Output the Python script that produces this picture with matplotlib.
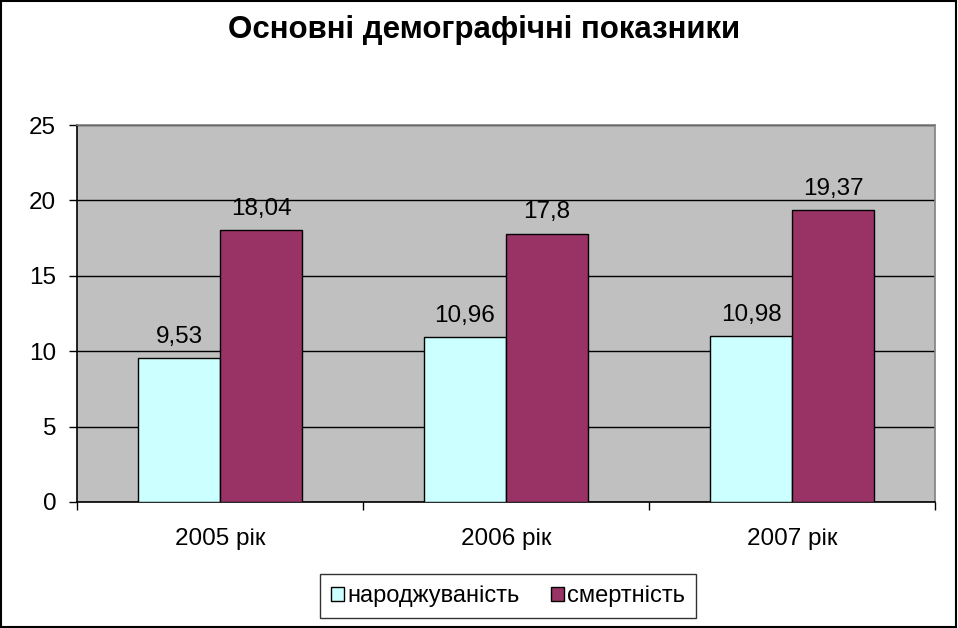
import matplotlib.pyplot as plt
import matplotlib.patches as mpatches
import numpy as np

plt.rcParams['font.family'] = ['Liberation Sans', 'DejaVu Sans']

categories = ["2005 рік", "2006 рік", "2007 рік"]
births = [9.53, 10.96, 10.98]
deaths = [18.04, 17.8, 19.37]
births_labels = ["9,53", "10,96", "10,98"]
deaths_labels = ["18,04", "17,8", "19,37"]
series_names = ["народжуваність", "смертність"]
y_ticks = [0, 5, 10, 15, 20, 25]


def main():
    fig = plt.figure(figsize=(9.58, 6.28), dpi=100)
    ax = fig.add_axes([77 / 958, 1 - 502 / 628, 858 / 958, 377 / 628])
    ax.set_facecolor("#C0C0C0")

    x = np.arange(len(categories))
    w = 0.287
    b1 = ax.bar(x - w / 2, births, w, color="#CCFFFF", edgecolor="black", linewidth=1, zorder=3)
    b2 = ax.bar(x + w / 2, deaths, w, color="#993366", edgecolor="black", linewidth=1, zorder=3)

    # підписи значень над стовпцями
    for rect, lab in zip(b1, births_labels):
        ax.text(rect.get_x() + rect.get_width() / 2, rect.get_height() + 1.0, lab,
                ha="center", va="baseline", fontsize=17.5, zorder=4)
    for rect, lab in zip(b2, deaths_labels):
        ax.text(rect.get_x() + rect.get_width() / 2, rect.get_height() + 1.0, lab,
                ha="center", va="baseline", fontsize=17.5, zorder=4)

    ax.set_xlim(-0.5, len(categories) - 0.5)
    ax.set_ylim(0, 25)
    ax.set_yticks(y_ticks)
    ax.set_yticklabels([str(t) for t in y_ticks], fontsize=17.5)
    ax.yaxis.grid(True, color="black", linewidth=1, zorder=1)
    ax.set_axisbelow(True)

    # категорії без рисок, риски на межах категорій
    ax.set_xticks(x)
    ax.set_xticklabels(categories, fontsize=17.5)
    ax.tick_params(axis="x", length=0, pad=19)
    ax.set_xticks(np.arange(len(categories) + 1) - 0.5, minor=True)
    ax.tick_params(axis="x", which="minor", length=6, width=1, direction="out")
    ax.tick_params(axis="y", length=6, width=1, direction="out", pad=9)

    ax.spines["left"].set_color("black")
    ax.spines["bottom"].set_color("black")
    ax.spines["top"].set_color("#808080")
    ax.spines["right"].set_color("#808080")
    for s in ax.spines.values():
        s.set_linewidth(1.2)

    fig.text(484 / 958, 1 - 30 / 628, "Основні демографічні показники",
             ha="center", va="center", fontsize=22.5, fontweight="bold")

    handles = [mpatches.Patch(facecolor="#CCFFFF", edgecolor="black"),
               mpatches.Patch(facecolor="#993366", edgecolor="black")]
    leg = fig.legend(handles, series_names, loc="center", bbox_to_anchor=(508 / 958, 1 - 596 / 628),
                     ncol=2, fontsize=17, frameon=True, fancybox=False, edgecolor="black",
                     handlelength=0.55, handleheight=0.55, handletextpad=0.15, columnspacing=1.3,
                     borderpad=0.45, borderaxespad=0)
    leg.get_frame().set_linewidth(1)

    fig.patches.append(mpatches.Rectangle((0.001, 0.001), 0.997, 0.997, transform=fig.transFigure,
                                          fill=False, edgecolor="black", linewidth=1.5))

    fig.savefig("out.png", dpi=100)


if __name__ == "__main__":
    main()
